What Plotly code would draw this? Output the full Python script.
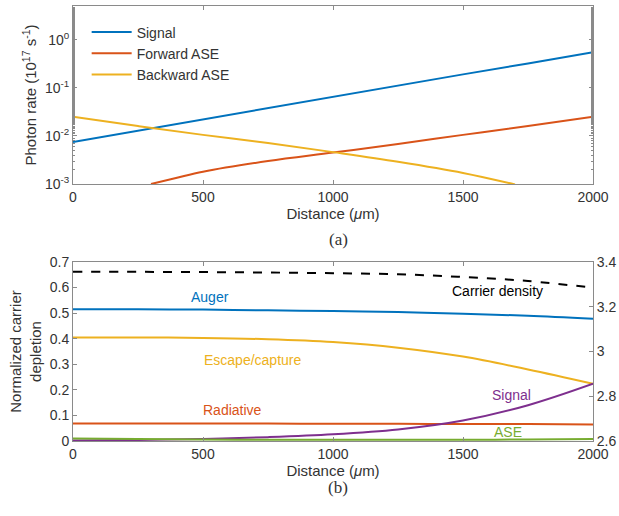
import plotly.graph_objects as go

# ---- Panel (a) data ----
dist_a = [0, 250, 500, 750, 1000, 1250, 1500, 1750, 2000]
signal_a = [0.0075, 0.0129, 0.022, 0.038, 0.065, 0.11, 0.19, 0.32, 0.55]
fwd_dist = [300, 400, 500, 750, 1000, 1250, 1500, 1750, 2000]
fwd_ase = [0.001, 0.00135, 0.0018, 0.003, 0.0045, 0.0068, 0.0105, 0.016, 0.025]
bwd_dist = [0, 250, 500, 750, 1000, 1250, 1500, 1700]
bwd_ase = [0.025, 0.016, 0.0105, 0.0071, 0.0046, 0.0029, 0.0017, 0.00098]

# ---- Panel (b) data ----
dist_b = [0, 250, 500, 750, 1000, 1250, 1500, 1750, 2000]
auger = [0.515, 0.515, 0.514, 0.511, 0.508, 0.504, 0.498, 0.49, 0.478]
escape = [0.405, 0.405, 0.403, 0.398, 0.387, 0.365, 0.33, 0.28, 0.224]
radiative = [0.068, 0.068, 0.068, 0.068, 0.067, 0.067, 0.066, 0.066, 0.065]
signal_b = [0.002, 0.004, 0.008, 0.015, 0.026, 0.045, 0.08, 0.14, 0.224]
ase_b = [0.01, 0.008, 0.006, 0.005, 0.005, 0.005, 0.005, 0.006, 0.008]
carrier = [3.356, 3.356, 3.355, 3.353, 3.35, 3.345, 3.333, 3.315, 3.285]

BLUE, RED, YEL, PUR, GRN = "#0072BD", "#D95319", "#EDB120", "#7E2F8E", "#77AC30"
FONT = "Liberation Sans, Arial, sans-serif"
AX = "#8a8a8a"
TXT = "#333333"
TICKF = dict(family=FONT, size=14, color=TXT)
TITLEF = dict(family=FONT, size=15, color=TXT)

fig = go.Figure()
fig.add_trace(go.Scatter(x=dist_a, y=signal_a, mode="lines", name="Signal",
                         line=dict(color=BLUE, width=2), xaxis="x", yaxis="y"))
fig.add_trace(go.Scatter(x=fwd_dist, y=fwd_ase, mode="lines", name="Forward ASE",
                         line=dict(color=RED, width=2, shape="spline"), xaxis="x", yaxis="y"))
fig.add_trace(go.Scatter(x=bwd_dist, y=bwd_ase, mode="lines", name="Backward ASE",
                         line=dict(color=YEL, width=2, shape="spline"), xaxis="x", yaxis="y"))

for yv, col in [(auger, BLUE), (escape, YEL), (radiative, RED), (signal_b, PUR), (ase_b, GRN)]:
    fig.add_trace(go.Scatter(x=dist_b, y=yv, mode="lines", showlegend=False,
                             line=dict(color=col, width=2, shape="spline"), xaxis="x2", yaxis="y2"))
fig.add_trace(go.Scatter(x=dist_b, y=carrier, mode="lines", showlegend=False,
                         line=dict(color="black", width=2, dash="dash", shape="spline"),
                         xaxis="x2", yaxis="y3"))

xdom = [73 / 619, 593 / 619]
axcommon = dict(showline=True, linecolor=AX, linewidth=1, mirror="ticks", ticks="inside",
                tickcolor=AX, ticklen=4, showgrid=False, zeroline=False, automargin=False,
                tickfont=TICKF)

fig.update_layout(
    width=619, height=516, margin=dict(l=0, r=0, t=0, b=0, autoexpand=False),
    paper_bgcolor="white", plot_bgcolor="white",
    font=dict(family=FONT, color=TXT),
    showlegend=True,
    legend=dict(x=0.14, y=0.968, xanchor="left", yanchor="top", bgcolor="rgba(0,0,0,0)",
                font=dict(family=FONT, size=14, color=TXT), tracegroupgap=0,
                itemwidth=40),
    xaxis=dict(domain=xdom, anchor="y", range=[0, 2000], tickvals=[0, 500, 1000, 1500, 2000],
               title=dict(text="Distance (<i>μ</i>m)", font=TITLEF, standoff=4),
               **axcommon),
    yaxis=dict(domain=[1 - 184 / 516, 1 - 6 / 516], anchor="x", type="log", range=[-3, 0.7],
               tickvals=[0.001, 0.01, 0.1, 1],
               ticktext=["10<sup>-3</sup>", "10<sup>-2</sup>", "10<sup>-1</sup>", "10<sup>0</sup>"],
               minor=dict(ticks="inside", ticklen=2, tickcolor=AX),
               title=dict(text="Photon rate (10<sup>17</sup> s<sup>-1</sup>)", font=TITLEF, standoff=4),
               **axcommon),
    xaxis2=dict(domain=xdom, anchor="y2", range=[0, 2000], tickvals=[0, 500, 1000, 1500, 2000],
                title=dict(text="Distance (<i>μ</i>m)", font=TITLEF, standoff=4),
                **axcommon),
    yaxis2=dict(domain=[1 - 441 / 516, 1 - 262 / 516], anchor="x2", range=[0, 0.7],
                tickvals=[0, 0.1, 0.2, 0.3, 0.4, 0.5, 0.6, 0.7],
                ticktext=["0", "0.1", "0.2", "0.3", "0.4", "0.5", "0.6", "0.7"],
                title=dict(text="Normalized carrier<br>depletion", font=TITLEF, standoff=4),
                **{**axcommon, "mirror": False}),
    yaxis3=dict(overlaying="y2", anchor="x2", side="right", range=[2.6, 3.4],
                tickvals=[2.6, 2.8, 3.0, 3.2, 3.4], ticktext=["2.6", "2.8", "3", "3.2", "3.4"],
                showline=True, linecolor=AX, ticks="inside", tickcolor=AX, ticklen=4,
                showgrid=False, zeroline=False, automargin=False, tickfont=TICKF),
)

labels = [("Auger", 527, 0.565, BLUE), ("Escape/capture", 692, 0.318, YEL),
          ("Radiative", 615, 0.121, RED), ("Signal", 1688, 0.18, PUR),
          ("ASE", 1673, 0.035, GRN), ("Carrier density", 1631, 0.585, "black")]
for t, x, y, c in labels:
    fig.add_annotation(x=x, y=y, xref="x2", yref="y2", text=t, showarrow=False,
                       font=dict(family=FONT, size=14, color=c))

fig.add_annotation(x=338 / 619, y=1 - 240 / 516, xref="paper", yref="paper", text="(a)",
                   showarrow=False, font=dict(family="Liberation Serif, Times New Roman, serif", size=17, color=TXT))
fig.add_annotation(x=338 / 619, y=1 - 499 / 516, xref="paper", yref="paper", text="(b)",
                   showarrow=False, font=dict(family="Liberation Serif, Times New Roman, serif", size=17, color=TXT))

fig.write_html("out.html")
